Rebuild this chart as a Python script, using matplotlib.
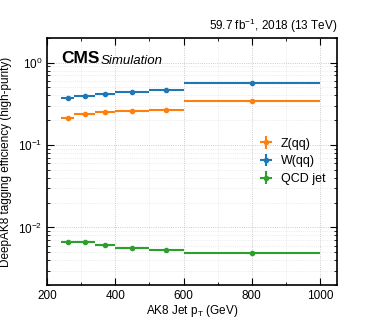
import numpy as np
import matplotlib
matplotlib.use("Agg")
import matplotlib.pyplot as plt
from matplotlib.ticker import MultipleLocator, LogLocator, NullFormatter

# pT bins (GeV)
bin_lo = [240, 280, 340, 400, 500, 600]
bin_hi = [280, 340, 400, 500, 600, 1000]
bin_center = [260, 310, 370, 450, 550, 800]

# tagging efficiencies
eff_zqq = [0.216, 0.239, 0.253, 0.258, 0.270, 0.345]
eff_wqq = [0.368, 0.389, 0.420, 0.435, 0.464, 0.561]
eff_qcd = [0.0067, 0.00658, 0.00617, 0.00562, 0.00531, 0.00483]

plt.rcParams['font.family'] = ['Liberation Sans', 'DejaVu Sans']
plt.rcParams['mathtext.fontset'] = 'custom'
plt.rcParams['mathtext.rm'] = 'Liberation Sans'
plt.rcParams['mathtext.it'] = 'Liberation Sans:italic'

fig = plt.figure(figsize=(3.74, 3.21), dpi=100)
ax = fig.add_axes([0.126, 0.112, 0.775, 0.770])

x = np.array(bin_center)
xerr = [x - np.array(bin_lo), np.array(bin_hi) - x]

series = [("Z(qq)", eff_zqq, "#ff7f0e"),
          ("W(qq)", eff_wqq, "#1f77b4"),
          ("QCD jet", eff_qcd, "#2ca02c")]
for name, vals, col in series:
    # tiny stat. errors, too small to see except in the legend cross
    yerr = np.array(vals) * 0.01
    ax.errorbar(x, vals, xerr=xerr, yerr=yerr, fmt='o', color=col,
                markersize=3, elinewidth=1.5, capsize=0, label=name)

ax.set_yscale('log')
ax.set_xlim(200, 1050)
ax.set_ylim(2e-3, 2)
ax.xaxis.set_major_locator(MultipleLocator(200))
ax.xaxis.set_minor_locator(MultipleLocator(100))
ax.yaxis.set_major_locator(LogLocator(base=10, numticks=10))
ax.yaxis.set_minor_locator(LogLocator(base=10, subs=np.arange(2, 10), numticks=10))
ax.yaxis.set_minor_formatter(NullFormatter())

ax.tick_params(which='both', direction='in', top=True, right=True, labelsize=8.5)
ax.tick_params(which='major', length=5)
ax.tick_params(which='minor', length=2.5)
ax.grid(which='major', color='#bbbbbb', linestyle=':', linewidth=0.6)
ax.grid(which='minor', color='#dddddd', linestyle=':', linewidth=0.5)
for s in ax.spines.values():
    s.set_linewidth(1.2)

ax.set_xlabel(r"AK8 Jet p$_\mathrm{T}$ (GeV)", fontsize=8.5, labelpad=1)
ax.set_ylabel("DeepAK8 tagging efficiency (high-purity)", fontsize=8.5)

ax.text(0.048, 0.945, "CMS", transform=ax.transAxes, fontsize=12.5,
        fontweight='bold', va='top')
ax.text(0.183, 0.93, "Simulation", transform=ax.transAxes, fontsize=9.5,
        style='italic', va='top')
ax.text(1.0, 1.01, r"59.7 fb$^{-1}$, 2018 (13 TeV)", transform=ax.transAxes,
        fontsize=8.5, ha='right', va='bottom')

ax.legend(loc='center right', bbox_to_anchor=(1.0, 0.5), frameon=False,
          fontsize=9, handlelength=1.0, handletextpad=0.7, labelspacing=0.45)

fig.savefig("out.png", dpi=100)
